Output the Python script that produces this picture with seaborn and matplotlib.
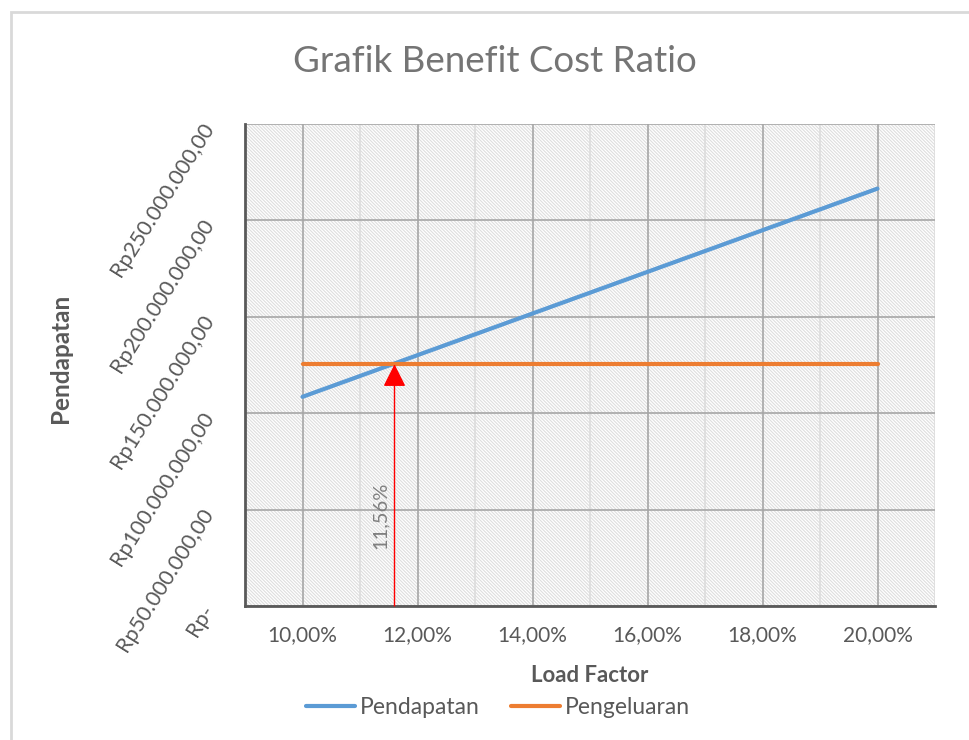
import matplotlib
matplotlib.use("Agg")
import matplotlib.pyplot as plt
import matplotlib.ticker as mticker
from matplotlib.patches import Rectangle
import pandas as pd
import seaborn as sns

# data
load_factor = [10, 11, 12, 13, 14, 15, 16, 17, 18, 19, 20]  # percent
pendapatan = [108.5, 119.3, 130.1, 140.9, 151.7, 162.5, 173.3, 184.1, 194.9, 205.7, 216.5]  # juta Rp
pengeluaran = [125.4, 125.4, 125.4, 125.4, 125.4, 125.4, 125.4, 125.4, 125.4, 125.4, 125.4]  # juta Rp
bep_x = 11.6
bep_y = 125.4
bep_label = "11,56%"
y_ticks = [0, 50, 100, 150, 200, 250]

df = pd.DataFrame({"lf": load_factor * 2,
                   "val": pendapatan + pengeluaran,
                   "seri": ["Pendapatan"] * len(load_factor) + ["Pengeluaran"] * len(load_factor)})

sns.set_style("white")
plt.rcParams["font.family"] = ["Lato", "DejaVu Sans"]
txt = "#595959"

fig = plt.figure(figsize=(9.69, 7.4), dpi=100)
ax = fig.add_axes([245 / 969, 1 - 606 / 740, 690 / 969, 482 / 740])

# chart area border
fig.patches.append(Rectangle((11 / 969, -0.1), 1.1, 1.1 - 12 / 740, transform=fig.transFigure,
                             fill=False, edgecolor="#d9d9d9", lw=2))

# hatched plot area
plt.rcParams["hatch.linewidth"] = 0.8
plt.rcParams["hatch.color"] = "#dedede"
ax.add_patch(Rectangle((0, 0), 1, 1, transform=ax.transAxes, facecolor="white",
                       hatch="\\" * 10, edgecolor="#dedede", lw=0, zorder=0))

sns.lineplot(data=df, x="lf", y="val", hue="seri", palette=["#5B9BD5", "#ED7D31"],
             linewidth=3, ax=ax, legend=False, zorder=3)

ax.set_xlim(9, 21)
ax.set_ylim(0, 250)
ax.xaxis.set_major_locator(mticker.MultipleLocator(2))
ax.xaxis.set_minor_locator(mticker.MultipleLocator(1))
ax.set_yticks(y_ticks)
ax.grid(which="major", color="#a6a6a6", lw=1.2, zorder=1)
ax.grid(which="minor", axis="x", color="#dcdcdc", lw=1.2, zorder=1)
ax.set_axisbelow(True)

ax.xaxis.set_major_formatter(mticker.FuncFormatter(lambda v, p: f"{v:.2f}%".replace(".", ",")))


def rp(v, p):
    if v == 0:
        return "Rp-"
    s = f"{int(v * 1e6):,}".replace(",", ".")
    return f"Rp{s},00"


ax.yaxis.set_major_formatter(mticker.FuncFormatter(rp))
ax.tick_params(axis="x", length=0, pad=14, labelsize=15, labelcolor=txt)
ax.tick_params(axis="y", length=0, pad=26, labelsize=15.5, labelcolor=txt)
for lab in ax.get_yticklabels():
    lab.set_rotation(58)
    lab.set_rotation_mode("anchor")
    lab.set_ha("right")
    lab.set_va("center")

for s in ["top", "right"]:
    ax.spines[s].set_visible(False)
for s in ["left", "bottom"]:
    ax.spines[s].set_color("#595959")
    ax.spines[s].set_linewidth(2)
    ax.spines[s].set_zorder(4)

# break-even arrow
ax.annotate("", xy=(bep_x, bep_y), xytext=(bep_x, 0),
            arrowprops=dict(arrowstyle="-|>,head_length=1.0,head_width=0.5", mutation_scale=14,
                            color="red", lw=1, shrinkA=0, shrinkB=0), zorder=5)
ax.text(bep_x - 0.1, 47, bep_label, rotation=90, ha="right", va="center",
        fontsize=14.5, color="#7f7f7f", zorder=5)

ax.set_xlabel("Load Factor", fontsize=16, fontweight="bold", color=txt, labelpad=14)
ax.set_ylabel("")
fig.text(60 / 969, 1 - 358 / 740, "Pendapatan", rotation=90, ha="center", va="center",
         fontsize=17.5, fontweight="bold", color=txt)
fig.text(495 / 969, 1 - 62 / 740, "Grafik Benefit Cost Ratio", ha="center", va="center",
         fontsize=26.5, color="#757575")

handles = [plt.Line2D([], [], color="#5B9BD5", lw=3), plt.Line2D([], [], color="#ED7D31", lw=3)]
fig.legend(handles, ["Pendapatan", "Pengeluaran"], loc="center", bbox_to_anchor=(498 / 969, 1 - 708 / 740),
           ncol=2, frameon=False, fontsize=16.5, handlelength=2.15, handletextpad=0.2, columnspacing=1.35,
           labelcolor=txt)

fig.savefig("out.png", dpi=100)
